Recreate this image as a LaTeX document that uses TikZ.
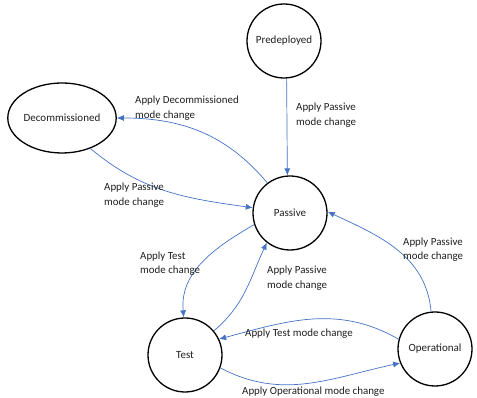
\documentclass[tikz,border=0pt]{standalone}
\usepackage{fontspec}
\setmainfont{Carlito}
\usetikzlibrary{shapes.geometric,arrows.meta}
\definecolor{arr}{RGB}{68,114,196}
\definecolor{txt}{RGB}{30,30,30}
\tikzset{
  state/.style={circle,draw=black,line width=1.3pt,minimum size=74pt,inner sep=0pt,font=\fontsize{11}{12}\selectfont,text=txt},
  estate/.style={ellipse,draw=black,line width=1.3pt,minimum width=99pt,minimum height=70pt,inner sep=0pt,font=\fontsize{11}{12}\selectfont,text=txt},
  tr/.style={draw=arr,line width=0.7pt,-{Latex[length=7pt,width=6pt]}},
  lab/.style={anchor=west,align=left,inner sep=0pt,text=txt,font=\fontsize{10.9}{14.5}\selectfont}
}
\begin{document}
\begin{tikzpicture}[x=1pt,y=1pt]
\useasboundingbox (0,0) rectangle (477,398);
\node[state]  (pre)  at (284,357) {Predeployed};
\node[estate] (dec)  at (62,280)  {Decommissioned};
\node[state]  (pas)  at (290,185) {Passive};
\node[state]  (tst)  at (185,43)  {Test};
\node[state]  (ops)  at (435,49)  {Operational};

\draw[tr] (pre.-86) -- (pas.94);
\draw[tr] (pas.127) to[out=130,in=0] (dec.east);
\draw[tr] (dec.-47) to[out=-40,in=172] (pas.172);
\draw[tr] (pas.198) to[out=210,in=95] (tst.92);
\draw[tr] (tst.40) to[out=40,in=245] (pas.232);
\draw[tr] (ops.165) to[out=150,in=15] (tst.25);
\draw[tr] (tst.-20) to[out=-28,in=192] (ops.-158);
\draw[tr] (ops.96) to[out=95,in=-25] (pas.2);

\node[lab] (l1) at (296,283) {Apply Passive\\mode change};
\node[lab] (l2) at (135,290) {Apply Decommissioned\\mode change};
\node[lab] (l3) at (104,203) {Apply Passive\\mode change};
\node[lab] (l4) at (140,134.5) {Apply Test\\mode change};
\node[lab] (l5) at (267,120) {Apply Passive\\mode change};
\node[lab] (l6) at (245,64) {Apply Test mode change};
\node[lab] (l7) at (242,6) {Apply Operational mode change};
\node[lab] (l8) at (403,148.5) {Apply Passive\\mode change};
\end{tikzpicture}
\end{document}
